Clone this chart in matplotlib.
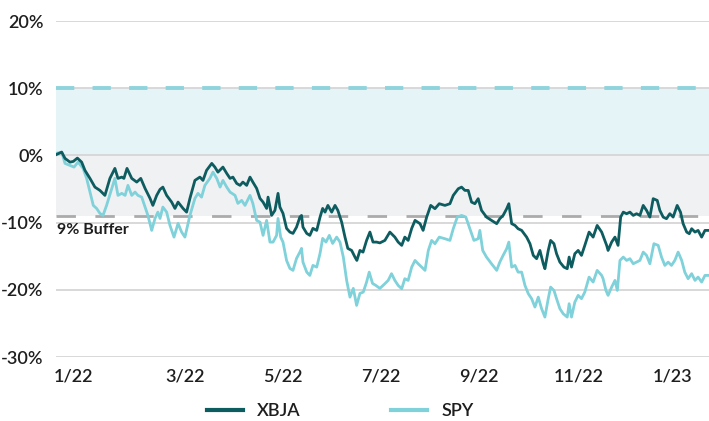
import matplotlib
matplotlib.use("Agg")
import matplotlib.pyplot as plt

# ---- data (trading-day index, cumulative return in %) ----
xbja_day = [0, 2.4, 3.8, 5.9, 7.3, 9.0, 10.8, 12.2, 14.3, 16.4, 18.5, 20.6, 22.7, 24.8, 26.1, 27.7,
            28.6, 29.9, 31.9, 34.0, 35.7, 37.5, 39.6, 40.8, 42.4, 43.8, 45.0, 46.6, 48.7, 50.1, 51.4,
            53.5, 55.0, 56.4, 58.5, 60.6, 61.9, 63.4, 65.6, 66.9, 68.2, 70.3, 71.9, 73.3, 74.5, 76.1,
            77.5, 78.7, 80.3, 81.7, 82.9, 84.5, 85.9, 87.2, 88.7, 89.3, 90.8, 92.2, 93.5, 94.3, 95.6,
            97.1, 98.5, 99.8, 101.3, 102.7, 103.4, 104.0, 105.6, 106.9, 108.2, 109.8, 111.2, 112.3,
            113.3, 114.5, 116.1, 117.5, 118.7, 120.3, 121.7, 122.9, 124.5, 125.9, 126.7, 128.0, 129.3,
            130.8, 132.2, 133.5, 135.0, 136.4, 138.5, 140.6, 142.7, 144.1, 145.6, 146.9, 148.3, 149.8,
            151.2, 153.3, 154.6, 156.1, 157.8, 159.6, 161.4, 163.8, 165.9, 167.3, 169.4, 170.8, 172.2,
            173.6, 175.0, 176.4, 177.8, 179.2, 181.3, 183.4, 185.6, 186.9, 188.3, 189.8, 190.7, 191.9,
            193.3, 194.6, 196.1, 198.2, 199.6, 201.0, 202.4, 203.8, 205.2, 205.9, 207.3, 208.3, 209.7,
            210.8, 212.2, 213.9, 215.3, 216.1, 217.1, 218.5, 219.9, 221.3, 222.7, 224.5, 226.2, 227.9,
            229.8, 231.9, 232.5, 234.0, 235.4, 236.7, 237.8, 238.9, 240.3, 241.7, 243.1, 244.5, 245.9,
            247.3, 248.7, 250.1, 251.5, 253.2, 254.3, 255.7, 257.1, 258.5, 259.9, 261.6, 263.0, 264.1,
            265.6, 266.7, 267.7, 269.1, 270.4, 271.9, 273.3, 275.0]
xbja_ret = [0.10, 0.49, -0.45, -1.00, -0.89, -0.40, -1.00, -2.23, -3.42, -4.72, -5.21, -5.95, -3.42,
            -1.93, -3.42, -3.23, -3.42, -1.93, -3.42, -3.97, -3.42, -4.91, -6.40, -7.44, -5.95, -5.06,
            -4.72, -5.95, -6.95, -7.89, -6.95, -7.89, -8.44, -6.40, -3.72, -3.23, -3.72, -2.23, -1.19,
            -1.74, -2.49, -1.74, -2.68, -3.42, -3.23, -4.17, -4.46, -3.97, -4.46, -3.23, -3.97, -4.91,
            -6.40, -6.95, -7.89, -6.21, -8.93, -8.18, -5.65, -7.69, -8.63, -10.86, -11.41, -11.61,
            -10.67, -9.18, -8.93, -10.67, -11.61, -11.90, -10.86, -11.16, -9.18, -7.89, -8.44, -7.44,
            -8.44, -7.44, -8.18, -9.93, -12.16, -13.84, -14.14, -15.13, -15.63, -14.14, -14.39, -12.65,
            -11.41, -12.90, -12.90, -13.02, -12.65, -11.41, -12.16, -12.90, -13.39, -12.16, -12.65,
            -10.86, -9.67, -10.16, -11.16, -9.18, -7.44, -7.93, -7.19, -7.44, -7.19, -5.95, -4.96,
            -4.72, -5.21, -5.21, -6.95, -7.19, -6.44, -8.18, -9.18, -9.67, -10.16, -9.42, -8.93, -7.93,
            -7.19, -10.16, -10.42, -10.91, -11.16, -12.16, -13.14, -14.88, -15.37, -14.14, -16.12,
            -16.86, -14.14, -12.65, -13.14, -14.63, -15.88, -16.62, -16.86, -15.13, -16.62, -14.63,
            -14.14, -14.88, -13.39, -11.41, -12.16, -10.42, -11.41, -13.39, -14.14, -12.90, -12.16,
            -13.39, -9.18, -8.44, -8.68, -8.44, -8.93, -8.68, -8.93, -7.44, -8.18, -9.18, -6.44, -6.70,
            -8.18, -9.18, -9.42, -8.68, -9.18, -7.44, -8.44, -10.16, -11.41, -11.65, -10.91, -11.41,
            -11.16, -12.16, -11.16, -11.16]

spy_day = [0, 2.4, 3.8, 5.9, 7.6, 9.3, 11.4, 12.9, 14.3, 15.7, 17.1, 18.5, 19.8, 21.3, 23.5, 24.8,
           26.1, 27.7, 29.1, 30.3, 31.9, 33.3, 34.5, 36.1, 37.5, 38.7, 40.3, 41.7, 42.9, 43.8, 45.0,
           46.6, 48.0, 49.7, 51.4, 52.9, 54.3, 56.4, 58.5, 59.8, 61.3, 62.7, 64.8, 66.1, 67.7, 69.1,
           70.3, 71.9, 73.3, 75.4, 76.6, 78.2, 79.6, 81.7, 82.9, 84.5, 85.9, 87.2, 88.7, 90.1, 91.4,
           92.9, 93.5, 94.6, 95.6, 97.1, 98.5, 99.8, 101.3, 102.7, 103.4, 104.0, 105.6, 106.9, 108.2,
           109.8, 111.2, 112.3, 113.7, 115.1, 116.5, 118.2, 119.6, 121.0, 122.4, 123.8, 125.2, 126.6,
           128.0, 129.4, 130.8, 131.9, 133.3, 134.7, 136.4, 138.5, 139.9, 141.3, 142.7, 144.1, 145.6,
           146.9, 148.3, 149.8, 151.2, 152.5, 154.0, 155.4, 156.8, 158.2, 159.6, 161.4, 163.8, 165.9,
           167.3, 169.0, 170.8, 172.6, 174.3, 176.0, 177.8, 178.5, 179.7, 181.3, 183.4, 185.6, 186.9,
           188.3, 189.8, 190.7, 191.9, 193.3, 194.6, 196.1, 197.5, 198.9, 200.3, 201.7, 203.1, 204.5,
           205.9, 207.3, 208.3, 209.7, 210.8, 212.2, 213.6, 215.3, 216.1, 217.1, 218.5, 219.9, 221.3,
           222.7, 224.5, 226.2, 227.9, 229.8, 230.4, 231.6, 232.5, 234.0, 235.4, 236.4, 237.5, 238.9,
           240.3, 241.7, 243.1, 244.5, 245.9, 247.3, 248.7, 250.1, 251.8, 253.6, 255.0, 256.4, 257.8,
           259.2, 260.6, 262.0, 263.5, 264.8, 266.2, 267.7, 269.1, 270.4, 271.9, 273.3, 275.0]
spy_ret = [0.30, 0.49, -1.19, -1.49, -1.74, -1.00, -1.93, -3.42, -5.46, -7.44, -7.89, -8.63, -8.93,
           -7.44, -4.91, -3.42, -5.95, -5.65, -5.95, -4.46, -5.95, -5.46, -5.95, -6.21, -7.69, -8.93,
           -11.16, -9.38, -8.44, -9.38, -7.69, -8.44, -10.42, -12.16, -10.12, -11.41, -12.16, -8.93,
           -6.40, -5.65, -6.21, -4.46, -3.42, -2.49, -3.42, -4.72, -3.72, -4.72, -5.46, -5.95, -7.14,
           -6.70, -7.44, -5.95, -7.14, -9.67, -9.93, -11.90, -9.67, -12.90, -12.90, -11.90, -9.38,
           -12.16, -12.90, -15.63, -16.82, -17.11, -15.33, -14.39, -13.84, -15.88, -17.37, -17.86,
           -16.37, -16.62, -14.58, -12.35, -12.90, -11.90, -13.10, -12.16, -12.90, -15.13, -18.60,
           -21.09, -19.79, -22.32, -20.54, -20.34, -18.85, -17.37, -19.05, -19.35, -19.79, -19.09,
           -18.60, -17.60, -18.60, -19.35, -19.84, -18.35, -18.60, -16.62, -15.63, -16.12, -16.62,
           -17.11, -14.14, -12.65, -13.14, -12.16, -12.40, -12.65, -10.91, -9.18, -8.93, -9.18, -10.91,
           -12.65, -12.40, -11.16, -14.14, -15.13, -16.12, -17.11, -15.88, -14.88, -13.88, -12.90,
           -16.62, -16.37, -17.37, -17.37, -19.35, -20.58, -21.32, -22.57, -21.09, -22.81, -24.06,
           -21.32, -19.60, -20.09, -21.32, -22.81, -23.56, -24.06, -22.07, -24.06, -21.83, -20.83,
           -21.32, -20.34, -18.11, -18.85, -17.11, -17.86, -18.35, -20.09, -20.83, -19.60, -18.60,
           -20.09, -15.63, -15.13, -15.63, -15.37, -16.12, -15.88, -15.63, -14.39, -14.88, -16.12,
           -13.14, -13.39, -15.13, -16.37, -15.88, -16.37, -15.63, -14.39, -15.63, -17.37, -18.35,
           -17.60, -18.60, -18.11, -18.85, -17.86, -17.86]

tick_days = [7.2, 54.3, 95.6, 136.9, 178.2, 220.3, 259.8]
tick_labels = ["1/22", "3/22", "5/22", "7/22", "9/22", "11/22", "1/23"]
y_ticks = [-30, -20, -10, 0, 10, 20]
cap_level = 10
buffer_level = -9
buffer_label = "9% Buffer"

DARK = "#0d5c60"
LIGHT = "#7fd1da"
TEXT = "#1e1e1e"

plt.rcParams['font.family'] = ['Lato', 'DejaVu Sans']

fig = plt.figure(figsize=(7.09, 4.21), dpi=100)
ax = fig.add_axes([56/709, 1 - 357/421, 653/709, 336/421])

ax.set_xlim(0, 275)
ax.set_ylim(-30, 20)

# bands
ax.axhspan(0, cap_level, color="#e4f4f7", lw=0, zorder=0)
ax.axhspan(buffer_level, 0, color="#f0f1f3", lw=0, zorder=0)

# grid
for v in y_ticks:
    ax.axhline(v, color="#d6d6d6", lw=1.3, zorder=1)

ax.axhline(cap_level, color="#8fd3dc", lw=2.8, dashes=(4.7, 4.7), zorder=2)
ax.axhline(buffer_level, color="#ababab", lw=2.0, dashes=(7, 7), zorder=2)

ax.plot(spy_day, spy_ret, color=LIGHT, lw=2.0, zorder=3, label="SPY")
ax.plot(xbja_day, xbja_ret, color=DARK, lw=2.0, zorder=4, label="XBJA")

ax.text(0.5, buffer_level - 1.1, buffer_label, fontsize=11.5, fontweight='bold', color=TEXT,
        va='top', ha='left', zorder=5)

ax.set_yticks(y_ticks)
ax.set_yticklabels([f"{v}%" for v in y_ticks])
ax.set_xticks(tick_days)
ax.set_xticklabels(tick_labels)
ax.tick_params(axis='both', length=0, labelsize=13, labelcolor=TEXT)
ax.tick_params(axis='y', pad=9)
ax.tick_params(axis='x', pad=8)
for lab in ax.get_xticklabels() + ax.get_yticklabels():
    lab.set_fontweight('semibold')
for s in ax.spines.values():
    s.set_visible(False)

h, l = ax.get_legend_handles_labels()
leg = fig.legend([h[1], h[0]], [l[1], l[0]], loc='center', bbox_to_anchor=(0.48, 1 - 411/421),
                 ncol=2, frameon=False, fontsize=13, handlelength=2.0, handletextpad=0.8,
                 columnspacing=5.0)
for line in leg.get_lines():
    line.set_linewidth(3)
for t in leg.get_texts():
    t.set_color(TEXT)
    t.set_fontweight('semibold')

fig.savefig("out.png", dpi=100)
